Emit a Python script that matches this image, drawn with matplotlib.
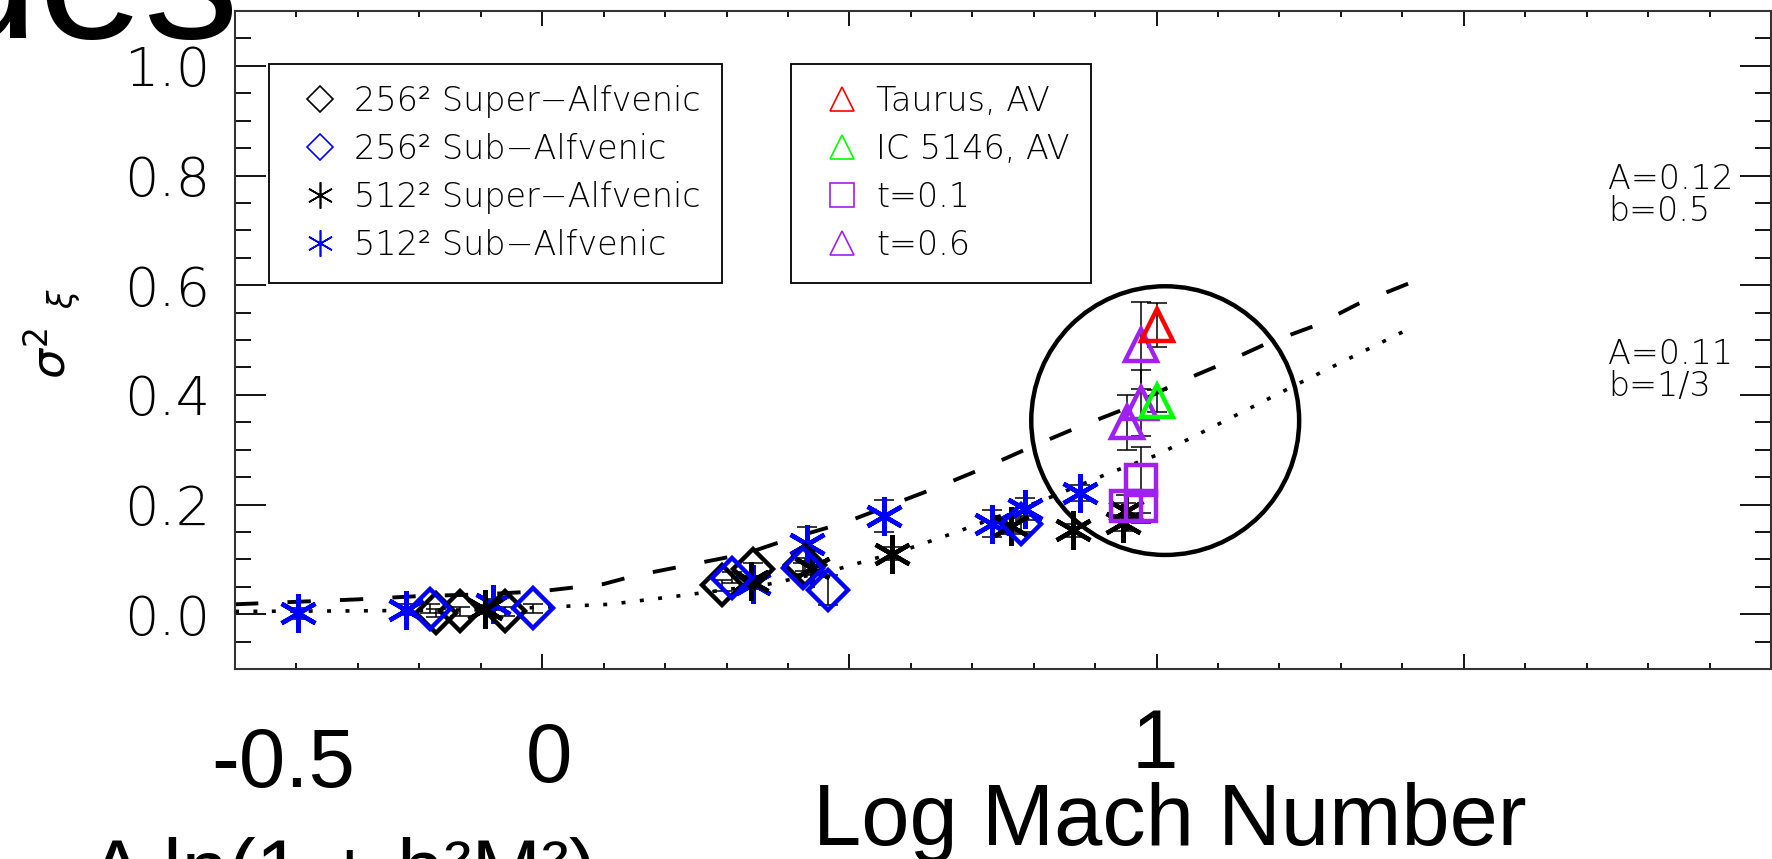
import matplotlib
matplotlib.use('Agg')
import matplotlib.pyplot as plt
from matplotlib.lines import Line2D
from matplotlib.patches import Ellipse
from matplotlib.ticker import MultipleLocator

# 256^2 super-Alfvenic runs (log Mach, sigma^2, error)
sup256_x = [-0.173, -0.134, -0.060, 0.293, 0.343, 0.428]
sup256_y = [0.002, 0.005, 0.005, 0.053, 0.082, 0.090]
sup256_err = [0.008, 0.008, 0.008, 0.010, 0.012, 0.012]

# 256^2 sub-Alfvenic runs
sub256_x = [-0.183, -0.015, 0.309, 0.424, 0.465, 0.779]
sub256_y = [0.010, 0.011, 0.066, 0.084, 0.044, 0.164]
sub256_err = [0.008, 0.008, 0.010, 0.010, 0.027, 0.015]

# 512^2 super-Alfvenic runs
sup512_x = [-0.093, 0.340, 0.439, 0.569, 0.763, 0.864, 0.945, 0.950]
sup512_y = [0.009, 0.060, 0.084, 0.110, 0.161, 0.153, 0.166, 0.188]
sup512_err = [0.008, 0.010, 0.012, 0.012, 0.015, 0.012, 0.015, 0.015]

# 512^2 sub-Alfvenic runs
sub512_x = [-0.398, -0.221, -0.080, 0.343, 0.431, 0.556, 0.732, 0.786, 0.875]
sub512_y = [0.002, 0.008, 0.018, 0.055, 0.128, 0.179, 0.165, 0.192, 0.221]
sub512_err = [0.010, 0.010, 0.010, 0.010, 0.031, 0.030, 0.025, 0.020, 0.015]

# observations
taurus_x, taurus_y, taurus_err = [1.0], [0.528], [0.040]
ic5146_x, ic5146_y, ic5146_err = [1.0], [0.388], [0.020]

# cloud simulations at two times
t01_x = [0.950, 0.975, 0.975]
t01_y = [0.197, 0.197, 0.245]
t01_err = [0.020, 0.030, 0.060]
t06_x = [0.952, 0.975, 0.975]
t06_y = [0.350, 0.385, 0.490]
t06_err = [0.050, 0.060, 0.080]

# model curves A ln(1 + b^2 M^2)
fit1_x = [-0.5, -0.3, -0.2, -0.1, 0.0, 0.1, 0.15, 0.24, 0.33, 0.41, 0.49, 0.57,
          0.64, 0.72, 0.80, 0.87, 0.95, 1.03, 1.10, 1.18, 1.26, 1.33, 1.43]
fit1_y = [0.018, 0.027, 0.033, 0.036, 0.042, 0.055, 0.070, 0.090, 0.110, 0.140,
          0.166, 0.200, 0.230, 0.267, 0.307, 0.340, 0.375, 0.420, 0.453, 0.494,
          0.527, 0.567, 0.612]
fit2_x = [-0.5, -0.3, -0.1, 0.05, 0.11, 0.22, 0.37, 0.48, 0.59, 0.67, 0.82,
          0.92, 1.00, 1.05, 1.23, 1.41]
fit2_y = [0.005, 0.006, 0.008, 0.015, 0.018, 0.033, 0.055, 0.082, 0.117, 0.148,
          0.210, 0.256, 0.290, 0.318, 0.420, 0.520]

W, H = 1772, 859
fig = plt.figure(figsize=(W / 100, H / 100), dpi=100)
ax = fig.add_axes([235 / W, 1 - 669 / H, 1536 / W, 658 / H])

purple = '#A020F0'
thin = dict(family='DejaVu Sans', weight='light')

def pts(x, y, err, marker, color, ms):
    ax.errorbar(x, y, yerr=err, fmt='none', ecolor='black', elinewidth=1.1,
                capsize=7, capthick=1.1, zorder=2)
    ax.plot(x, y, ls='none', marker=marker, mfc='none', mec=color, ms=ms,
            mew=3.2, zorder=3)

star = (6, 2, 0)
pts(sub512_x, sub512_y, sub512_err, star, 'blue', 28)
pts(sup512_x, sup512_y, sup512_err, star, 'black', 28)
pts(sup256_x, sup256_y, sup256_err, 'D', 'black', 20)
pts(sub256_x, sub256_y, sub256_err, 'D', 'blue', 20)
pts(t01_x, t01_y, t01_err, 's', purple, 21)
pts(t06_x, t06_y, t06_err, '^', purple, 23)
pts(ic5146_x, ic5146_y, ic5146_err, '^', '#00FF00', 23)
pts(taurus_x, taurus_y, taurus_err, '^', 'red', 23)

ax.plot(fit1_x, fit1_y, color='black', lw=2.8, dashes=(6, 7.5), solid_capstyle='butt')
ax.plot(fit2_x, fit2_y, color='black', lw=2.6, dashes=(1.1, 4.0), dash_capstyle='butt')

ax.add_patch(Ellipse((1.014, 0.353), 0.436, 0.49, fill=False, lw=3.2, ec='black', zorder=4))

ax.text(1.735, 0.763, 'A=0.12\nb=0.5', fontsize=24, va='center', ha='left',
        linespacing=0.95, **thin)
ax.text(1.735, 0.444, 'A=0.11\nb=1/3', fontsize=24, va='center', ha='left',
        linespacing=0.95, **thin)

ax.set_xlim(-0.5, 2.0)
ax.set_ylim(-0.1, 1.1)
ax.xaxis.set_major_locator(MultipleLocator(0.5))
ax.xaxis.set_minor_locator(MultipleLocator(0.1))
ax.yaxis.set_minor_locator(MultipleLocator(0.05))
ax.set_yticks([0.0, 0.2, 0.4, 0.6, 0.8, 1.0])
ax.set_yticklabels(['0.0', '0.2', '0.4', '0.6', '0.8', '1.0'], **thin)
ax.tick_params(axis='x', which='major', direction='in', length=11, width=1.3,
               top=True, bottom=True, labelbottom=False)
ax.tick_params(axis='x', which='minor', direction='in', length=4.5, width=1.3,
               top=True, bottom=True)
ax.tick_params(axis='y', which='major', direction='in', length=22, width=1.3,
               left=True, right=True, labelsize=39, pad=18)
ax.tick_params(axis='y', which='minor', direction='in', length=11.5, width=1.3,
               left=True, right=True)
for s in ax.spines.values():
    s.set_linewidth(1.5)
    s.set_color('#333333')

ax.set_ylabel(r'$\sigma^2\,\,{}_{\xi}$', fontsize=34, va='center')
ax.yaxis.set_label_coords(-0.119, 0.51)

# legends
def handle(marker, color, ms):
    return Line2D([], [], ls='none', marker=marker, mfc='none', mec=color, ms=ms, mew=1.2)

leg_kw = dict(loc='upper left', bbox_transform=fig.transFigure,
              prop=dict(size=24, **thin),
              frameon=True, fancybox=False, edgecolor='black', framealpha=1,
              borderpad=0.63, labelspacing=0.45, handlelength=1.8,
              handletextpad=0.12, borderaxespad=0)
leg1 = ax.legend(handles=[handle('D', 'black', 13.7), handle('D', 'blue', 13.7),
                          handle(star, 'black', 19), handle(star, 'blue', 19)],
                 labels=['256² Super−Alfvenic', '256² Sub−Alfvenic',
                         '512² Super−Alfvenic', '512² Sub−Alfvenic'],
                 bbox_to_anchor=(269 / W, 1 - 64 / H), **leg_kw)
leg1.get_frame().set_linewidth(1.3)
ax.add_artist(leg1)
leg2 = ax.legend(handles=[handle('^', 'red', 17), handle('^', '#00FF00', 17),
                          handle('s', purple, 17), handle('^', purple, 17)],
                 labels=['Taurus, AV', 'IC 5146, AV', 't=0.1', 't=0.6'],
                 bbox_to_anchor=(791 / W, 1 - 64 / H), **leg_kw)
leg2.get_frame().set_linewidth(1.3)

# slide text around the plot
slide = dict(family='Liberation Sans', color='black')
fig.text(-67 / W, 1 - 38 / H, 'ues', fontsize=137, va='baseline', ha='left', **slide)
fig.text(211 / W, 1 - 787 / H, '-0.5', fontsize=60, va='baseline', ha='left', **slide)
fig.text(526 / W, 1 - 782 / H, '0', fontsize=60, va='baseline', ha='left', **slide)
fig.text(1132 / W, 1 - 768 / H, '1', fontsize=60, va='baseline', ha='left', **slide)
fig.text(813 / W, 1 - 845 / H, 'Log Mach Number', fontsize=62.5, va='baseline', ha='left', **slide)
fig.text(89 / W, 1 - 898 / H, 'A ln(1 + b²M²)', fontsize=60, va='baseline', ha='left', **slide)

fig.savefig('out.png', dpi=100)
